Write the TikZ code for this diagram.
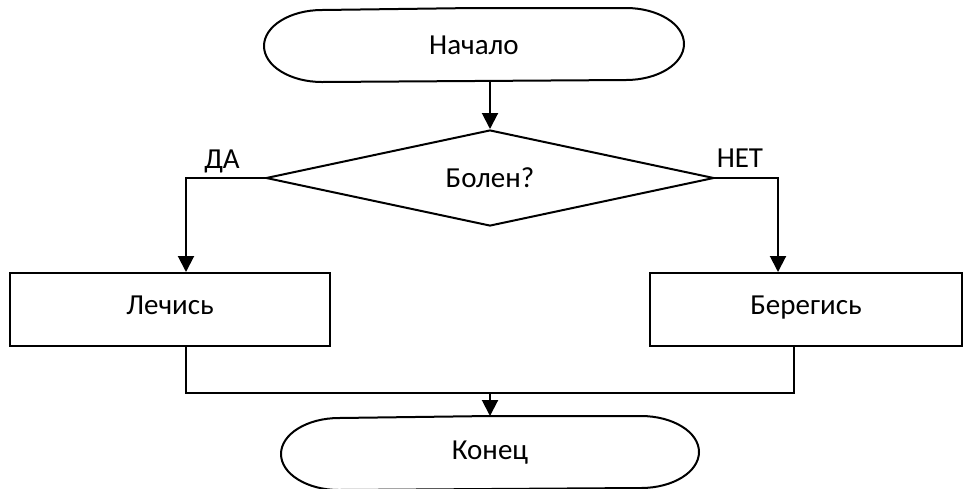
\documentclass[tikz,border=0pt]{standalone}
\usepackage{fontspec}
\setmainfont{Carlito}
\usetikzlibrary{shapes.geometric,arrows.meta}

\tikzset{
  terminal/.style={minimum width=209pt, minimum height=36pt, inner sep=0pt},
  process/.style={draw, minimum height=36.5pt, inner sep=0pt, text height=1.6ex, text depth=.45ex},
  decision/.style={draw, diamond, aspect=4.67, minimum width=224pt, minimum height=48pt, inner sep=0pt},
  flow/.style={-{Triangle[length=8pt,width=8pt]}},
}

\begin{document}
\begin{tikzpicture}[x=0.5pt, y=-0.5pt, line width=1pt, font=\fontsize{14.5}{17}\selectfont]
    \useasboundingbox (0,0) rectangle (963,488);

    \node[terminal] (start) at (474,45) {Начало};
    \node[decision] (ill) at (490,178) {Болен?};
    \node[process, minimum width=160pt] (heal) at (170,309.5) {Лечись};
    \node[process, minimum width=156pt] (care) at (806,309.5) {Берегись};
    \node[terminal, minimum width=208pt] (stop) at (490,453) {Конец};

    % outline of the two terminals
    \foreach \t in {start, stop}
        \draw (\t.north) -- ([xshift=-29pt]\t.north east)
            arc[start angle=90, end angle=-90, x radius=29pt, y radius=18pt]
            -- ([xshift=29pt]\t.south west)
            arc[start angle=270, end angle=90, x radius=29pt, y radius=18pt] -- cycle;

    \node (yeslabel) at (222,161) {ДА};
    \node (nolabel) at (740,158) {НЕТ};

    \coordinate (yes) at (186,178);
    \coordinate (no) at (778,178);
    \coordinate (join) at (490,393);
    \coordinate (back) at (794,393);

    \draw[flow] (start.south -| ill.north) -- (ill.north);
    \draw[flow] (ill.west) -- (yes) -- (yes |- heal.north);
    \draw[flow] (ill.east) -- (no) -- (no |- care.north);
    \draw (yes |- heal.south) -- (yes |- join) -- (back) -- (back |- care.south);
    \draw[flow] (join) -- (stop.north);

\end{tikzpicture}
\end{document}
